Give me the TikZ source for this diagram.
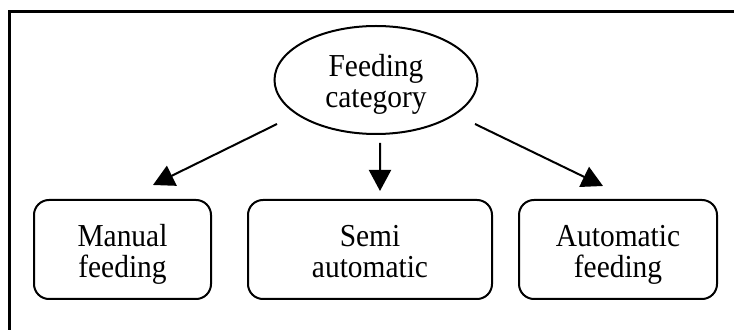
\documentclass[tikz,border=0pt]{standalone}
\usepackage{fontspec}
\setmainfont[FakeStretch=0.92]{Liberation Serif}
\usepackage{tikz}
\usetikzlibrary{shapes,arrows.meta,calc}
\tikzstyle{tsText} = [ 
    text=black, 
    font=\fontsize{27.3}{26.2}\selectfont,
    align=center,
    text height=1.88cm,
    text depth=0.22cm
]
\tikzstyle{tsRoundedRectangle} = [ 
    rectangle,
    tsText,               
    draw=black,
    line width=0.6mm,
    rounded corners=0.45cm,
    minimum height=2.97cm,
    inner sep=0pt]
\tikzstyle{tsEllipse} = [ 
    ellipse,
    tsText,
    draw=black,
    line width=0.6mm,
    minimum width=6.09cm,
    minimum height=3.24cm,
    inner sep=0pt]
\tikzstyle{tsArrow} = [ 
    -{Triangle[length=0.63cm,width=0.66cm]},
    line width=0.6mm
]
\begin{document}
\begin{tikzpicture}
        \useasboundingbox (0,0) rectangle (22.02,9.9);

        % Frame
        \draw[line width=0.9mm] (0.27,0) -- (0.27,9.54) -- (22.02,9.54);

        % Category node
        \node[tsEllipse] (cat) at (11.28,7.5) {Feeding\\category};

        % Feeding nodes
        \node[  tsRoundedRectangle, 
                minimum width=5.31cm] (man) at (3.675,2.415) {Manual\\feeding};

        \node[  tsRoundedRectangle, 
                minimum width=7.32cm] (semi) at (11.1,2.415) {Semi\\automatic};

        \node[  tsRoundedRectangle, 
                minimum width=5.94cm] (auto) at (18.54,2.415) {Automatic\\feeding};

        % Arrows from category to feeding nodes
        \draw[tsArrow] ($(cat.south)+(-2.97,0.33)$) -- ($(man.north)+(0.915,0.42)$);
        \draw[tsArrow] ($(cat.south)+(0.12,-0.24)$) -- ($(semi.north)+(0.3,0.24)$);
        \draw[tsArrow] ($(cat.south)+(2.97,0.33)$) -- ($(auto.north)+(-0.45,0.39)$);

\end{tikzpicture}
\end{document}
